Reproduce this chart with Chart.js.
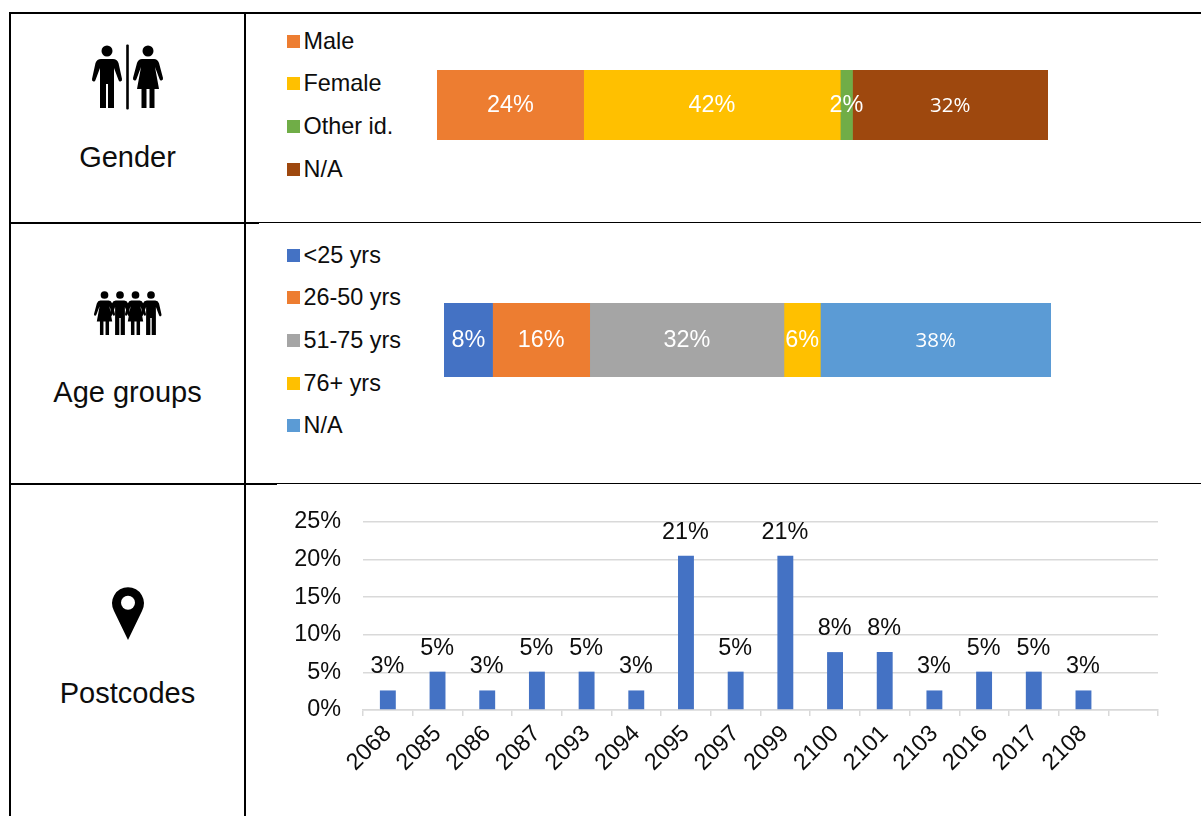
<!DOCTYPE html>
<html>
<head>
<meta charset="utf-8">
<script src="https://cdn.jsdelivr.net/npm/chart.js@4"></script>
<style>
    html, body { margin: 0; padding: 0; background: #fff; }
    body { position: relative; width: 1201px; height: 816px; overflow: hidden; font-family: "Liberation Sans", Arial, sans-serif; color: #000; }
    canvas { position: absolute; }
    .line { position: absolute; background: #000; }
    .rowTitle { position: absolute; left: 10px; width: 235px; text-align: center; font-size: 29px; line-height: 34px; color: #0d0d0d; }
    .legend { position: absolute; left: 287px; font-size: 23.4px; color: #0d0d0d; }
    .legendRow { display: flex; align-items: center; height: 42.67px; }
    .legendRow i { display: block; width: 13px; height: 13px; margin-right: 3.5px; }
    svg { position: absolute; left: 0; top: 0; }
</style>
</head>
<body>

<!-- table lines -->
<div class="line" style="left:9px;top:12px;width:1192px;height:2px"></div>
<div class="line" style="left:9px;top:12px;width:2px;height:804px"></div>
<div class="line" style="left:244px;top:12px;width:2px;height:804px"></div>
<div class="line" style="left:9px;top:222px;width:250px;height:2px"></div>
<div class="line" style="left:259px;top:222px;width:942px;height:1px"></div>
<div class="line" style="left:9px;top:483px;width:268px;height:2px"></div>
<div class="line" style="left:277px;top:483px;width:924px;height:1px"></div>

<!-- icons -->
<svg width="246" height="816">
    <defs>
        <g id="man">
            <circle cx="0" cy="0" r="5.5"/>
            <path d="M-6 8 H6 Q10 8 11.5 12 L15 28 Q15.3 30 13.5 30.5 Q12 30.8 11.5 29 L7 17 V57 H1 V33 H-1 V57 H-7 V17 L-11.5 29 Q-12 30.8 -13.5 30.5 Q-15.3 30 -15 28 L-11.5 12 Q-10 8 -6 8 Z"/>
        </g>
        <g id="woman">
            <circle cx="0" cy="0" r="5.5"/>
            <path d="M-6 8 H6 Q9.5 8 11 12 L15 27 Q15.3 29 13.5 29.5 Q12 29.8 11.5 28 L7 16 L11 38 H6.5 V57 H1.5 V38 H-1.5 V57 H-6.5 V38 H-11 L-7 16 L-11.5 28 Q-12 29.8 -13.5 29.5 Q-15.3 29 -15 27 L-11 12 Q-9.5 8 -6 8 Z"/>
        </g>
    </defs>
    <use href="#man" x="107" y="51"/>
    <rect x="126.2" y="44.5" width="2.6" height="65" rx="1"/>
    <use href="#woman" x="148" y="51"/>
    <g transform="translate(104.5 295) scale(.7)"><use href="#woman"/></g>
    <g transform="translate(120 295) scale(.7)"><use href="#man"/></g>
    <g transform="translate(135.5 295) scale(.7)"><use href="#woman"/></g>
    <g transform="translate(151 295) scale(.7)"><use href="#man"/></g>
    <path d="M128 640 L114 611 A16 16 0 1 1 142 611 Z"/>
    <circle cx="128" cy="602.7" r="7" fill="#fff"/>
</svg>

<div class="rowTitle" style="top:140px">Gender</div>
<div class="rowTitle" style="top:375px">Age groups</div>
<div class="rowTitle" style="top:676px">Postcodes</div>

<div class="legend" id="genderLegend" style="top:20px"></div>
<div class="legend" id="ageLegend" style="top:234px"></div>

<canvas id="genderChart" width="611" height="70" style="left:437px;top:70px"></canvas>
<canvas id="ageChart" width="607" height="74" style="left:444px;top:303px"></canvas>
<canvas id="postcodeChart" width="954" height="330" style="left:247px;top:486px"></canvas>

<script>
let genderLabels = ["Male", "Female", "Other id.", "N/A"];
let genderValues = [24, 42, 2, 32];
let genderColors = ["#ED7D31", "#FFC000", "#70AD47", "#9E480E"];

let ageLabels = ["<25 yrs", "26-50 yrs", "51-75 yrs", "76+ yrs", "N/A"];
let ageValues = [8, 16, 32, 6, 38];
let ageColors = ["#4472C4", "#ED7D31", "#A5A5A5", "#FFC000", "#5B9BD5"];

// last slot stays empty in the original axis
let postcodes = ["2068", "2085", "2086", "2087", "2093", "2094", "2095", "2097", "2099", "2100", "2101", "2103", "2016", "2017", "2108", ""];
let postcodeValues = [2.6, 5.1, 2.6, 5.1, 5.1, 2.6, 20.5, 5.1, 20.5, 7.7, 7.7, 2.6, 5.1, 5.1, 2.6, null];

const ARIAL = '"Liberation Sans", Arial, sans-serif';
const FONT_SIZE = 23.4;

// the two N/A segments use a different font in the original
const labelFonts = { "N/A": '20.5px "Open Sans"' };

const stackLabelPlugin = {
    id: "stackLabels",
    afterDatasetsDraw(chart) {
        let ctx = chart.ctx;
        ctx.save();
        ctx.fillStyle = "#fff";
        ctx.textAlign = "center";
        ctx.textBaseline = "middle";
        chart.data.datasets.forEach((ds, i) => {
            let el = chart.getDatasetMeta(i).data[0];
            let p = el.getCenterPoint();
            ctx.font = labelFonts[ds.label] || (FONT_SIZE + "px " + ARIAL);
            ctx.fillText(ds.data[0] + "%", p.x, p.y + 1);
        });
        ctx.restore();
    }
};

const barLabelPlugin = {
    id: "barLabels",
    afterDatasetsDraw(chart) {
        let ctx = chart.ctx;
        ctx.save();
        ctx.fillStyle = "#0d0d0d";
        ctx.textAlign = "center";
        ctx.textBaseline = "alphabetic";
        ctx.font = FONT_SIZE + "px " + ARIAL;
        chart.getDatasetMeta(0).data.forEach((el, i) => {
            let v = chart.data.datasets[0].data[i];
            if (v === null) return;
            ctx.fillText(Math.round(v) + "%", el.x - 0.5, el.y - 17);
        });
        ctx.restore();
    }
};

function stackedChart(canvasId, legendId, name, labels, values, colors) {
    let chart = new Chart(document.getElementById(canvasId), {
        type: "bar",
        data: {
            labels: [name],
            datasets: labels.map((l, i) => ({
                label: l,
                data: [values[i]],
                backgroundColor: colors[i],
                barPercentage: 1,
                categoryPercentage: 1
            }))
        },
        options: {
            indexAxis: "y",
            responsive: false,
            animation: false,
            layout: { padding: 0 },
            plugins: { legend: { display: false }, tooltip: { enabled: false } },
            scales: {
                x: { stacked: true, display: false, min: 0, max: 100 },
                y: { stacked: true, display: false }
            }
        },
        plugins: [stackLabelPlugin]
    });
    // html legend, Chart.js puts too much space between box and text
    let html = "";
    Chart.defaults.plugins.legend.labels.generateLabels(chart).forEach(item => {
        let text = item.text.replace("<", "&lt;");
        html += `<div class="legendRow"><i style="background:${item.fillStyle}"></i>${text}</div>`;
    });
    document.getElementById(legendId).innerHTML = html;
    return chart;
}

stackedChart("genderChart", "genderLegend", "Gender", genderLabels, genderValues, genderColors);
stackedChart("ageChart", "ageLegend", "Age groups", ageLabels, ageValues, ageColors);

new Chart(document.getElementById("postcodeChart"), {
    type: "bar",
    data: {
        labels: postcodes,
        datasets: [{
            data: postcodeValues,
            backgroundColor: "#4472C4",
            barPercentage: 0.32,
            categoryPercentage: 1
        }]
    },
    options: {
        responsive: false,
        animation: false,
        layout: { padding: { top: 28, right: 43, left: 0, bottom: 0 } },
        plugins: { legend: { display: false }, tooltip: { enabled: false } },
        scales: {
            x: {
                afterFit: s => { s.height = 106; },
                border: { color: "#D9D9D9", width: 1.5 },
                grid: { drawOnChartArea: false, color: "#D9D9D9", lineWidth: 1.5, tickLength: 6 },
                ticks: {
                    color: "#0d0d0d",
                    font: { family: ARIAL, size: FONT_SIZE },
                    minRotation: 45,
                    maxRotation: 45,
                    autoSkip: false,
                    padding: 4
                }
            },
            y: {
                min: 0,
                max: 25,
                afterFit: s => { s.width = 116; },
                border: { display: false },
                grid: { color: "#D9D9D9", lineWidth: 1.5, drawTicks: false },
                ticks: {
                    stepSize: 5,
                    color: "#0d0d0d",
                    font: { family: ARIAL, size: FONT_SIZE },
                    padding: 22,
                    callback: v => v + "%"
                }
            }
        }
    },
    plugins: [barLabelPlugin]
});
</script>
</body>
</html>
